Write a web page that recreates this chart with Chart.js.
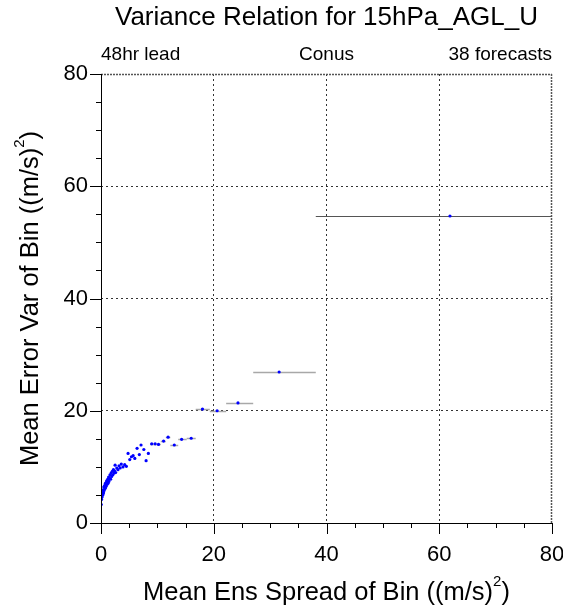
<!DOCTYPE html>
<html>
<head>
<meta charset="utf-8">
<script src="https://cdn.jsdelivr.net/npm/chart.js@4.4.1/dist/chart.umd.min.js"></script>
<style>
  html, body { margin: 0; padding: 0; background: #fff; }
</style>
</head>
<body>
<canvas id="varianceChart" width="563" height="609"></canvas>
<script>
// small bins near the origin (error bars too short to see)
const clusterSpread = [0.05, 0.1, 0.15, 0.2, 0.25, 0.3, 0.35, 0.4, 0.45, 0.5, 0.55, 0.6, 0.7, 0.75, 0.8, 0.9, 0.95, 1.0, 1.1, 1.2,
  1.25, 1.35, 1.4, 1.5, 1.6, 1.7, 1.8, 1.9, 2.0, 2.1, 2.2, 2.35, 2.4, 2.5, 2.6, 2.8, 3.0, 3.2, 3.4, 3.6,
  3.9, 4.2, 4.5, 4.8, 5.1, 5.4, 5.7, 6.0, 6.4, 6.8, 7.1, 7.6, 8.0, 8.4];
const clusterErrVar = [3.3, 4.2, 4.6, 5.3, 4.9, 5.8, 5.1, 5.9, 5.4, 6.4, 5.8, 6.6, 6.1, 7.0, 6.3, 7.2, 6.6, 7.5, 6.9, 7.8,
  7.1, 8.2, 7.4, 8.0, 8.6, 7.8, 8.9, 8.3, 9.2, 8.6, 9.5, 8.9, 9.3, 10.3, 9.0, 9.8, 9.5, 10.2, 9.8, 10.5,
  10.0, 10.4, 10.1, 12.4, 11.3, 11.8, 12.0, 11.5, 13.3, 12.2, 13.9, 13.1, 11.1, 12.4];

// wider bins with visible spread ranges
const binSpread = [9.0, 9.6, 10.2, 11.1, 11.9, 13.0, 14.3, 16.0, 18.0, 20.6, 24.3, 31.6, 61.9];
const binErrVar = [14.1, 14.1, 14.0, 14.6, 15.3, 13.9, 14.9, 15.1, 20.3, 20.0, 21.4, 26.9, 54.7];
const binLo = [8.7, 9.3, 9.9, 10.6, 11.5, 12.3, 13.7, 15.2, 16.8, 19.3, 22.2, 27.0, 38.1];
const binHi = [9.3, 9.9, 10.6, 11.5, 12.3, 13.7, 15.2, 16.8, 19.3, 22.2, 27.0, 38.1, 90];

const axisTicks = [0, 20, 40, 60, 80];

const fontName = '"Liberation Sans", Arial, Helvetica, sans-serif';

function toPoints(xs, ys) {
  return xs.map((x, i) => ({ x: x, y: ys[i] }));
}

function textWithSup(ctx, pre, sup, post, size) {
  // draws centred at (0,0)
  ctx.font = size + 'px ' + fontName;
  const w1 = ctx.measureText(pre).width;
  const w3 = ctx.measureText(post).width;
  ctx.font = Math.round(size * 0.6) + 'px ' + fontName;
  const w2 = ctx.measureText(sup).width;
  let x = -(w1 + w2 + w3) / 2;
  ctx.textAlign = 'left';
  ctx.textBaseline = 'middle';
  ctx.font = size + 'px ' + fontName;
  ctx.fillText(pre, x, 0);
  x += w1;
  ctx.font = Math.round(size * 0.6) + 'px ' + fontName;
  ctx.fillText(sup, x, -size * 0.42);
  x += w2;
  ctx.font = size + 'px ' + fontName;
  ctx.fillText(post, x, 0);
}

const decor = {
  id: 'decor',
  beforeDatasetsDraw(chart) {
    const ctx = chart.ctx;
    const xs = chart.scales.x, ys = chart.scales.y;
    const a = chart.chartArea;
    ctx.save();
    ctx.beginPath();
    ctx.rect(a.left, a.top, a.right - a.left, a.bottom - a.top);
    ctx.clip();
    // spread range of each bin
    binLo.forEach((lo, i) => {
      const y = Math.round(ys.getPixelForValue(binErrVar[i])) + 0.5;
      ctx.strokeStyle = i === binLo.length - 1 ? '#555' : '#a8a8a8';
      ctx.lineWidth = i === binLo.length - 1 ? 1 : 1.5;
      ctx.beginPath();
      ctx.moveTo(xs.getPixelForValue(lo), y);
      ctx.lineTo(xs.getPixelForValue(binHi[i]), y);
      ctx.stroke();
    });
    ctx.restore();
  },
  afterDraw(chart) {
    const ctx = chart.ctx;
    const xs = chart.scales.x, ys = chart.scales.y;
    const a = chart.chartArea;
    ctx.save();
    // top and right frame
    ctx.strokeStyle = '#555';
    ctx.lineWidth = 1.5;
    ctx.setLineDash([2, 1]);
    ctx.beginPath();
    ctx.moveTo(a.left, a.top + 0.5);
    ctx.lineTo(a.right, a.top + 0.5);
    ctx.moveTo(a.right - 0.5, a.top);
    ctx.lineTo(a.right - 0.5, a.bottom);
    ctx.stroke();
    ctx.setLineDash([]);
    // left and bottom axes
    ctx.strokeStyle = '#000';
    ctx.lineWidth = 1;
    ctx.beginPath();
    ctx.moveTo(a.left + 0.5, a.top);
    ctx.lineTo(a.left + 0.5, a.bottom + 1);
    ctx.moveTo(a.left, a.bottom + 0.5);
    ctx.lineTo(a.right, a.bottom + 0.5);
    for (let v = 0; v <= 80; v += 5) {
      const len = axisTicks.includes(v) ? 11 : 5;
      const py = Math.round(ys.getPixelForValue(v)) + 0.5;
      ctx.moveTo(a.left - len, py);
      ctx.lineTo(a.left + 0.5, py);
      const px = Math.round(xs.getPixelForValue(v)) + 0.5;
      ctx.moveTo(px, a.bottom);
      ctx.lineTo(px, a.bottom + len);
    }
    ctx.stroke();

    // titles
    ctx.fillStyle = '#000';
    const cx = (a.left + a.right) / 2;
    ctx.font = '26px ' + fontName;
    ctx.textAlign = 'center';
    ctx.textBaseline = 'middle';
    ctx.fillText('Variance Relation for 15hPa_AGL_U', cx, 18);
    ctx.font = '19px ' + fontName;
    ctx.textAlign = 'left';
    ctx.fillText('48hr lead', a.left, 55);
    ctx.textAlign = 'center';
    ctx.fillText('Conus', cx, 55);
    ctx.textAlign = 'right';
    ctx.fillText('38 forecasts', a.right, 55);

    ctx.save();
    ctx.translate(cx, 593);
    textWithSup(ctx, 'Mean Ens Spread of Bin ((m/s)', '2', ')', 25.5);
    ctx.restore();

    ctx.save();
    ctx.translate(31, (a.top + a.bottom) / 2);
    ctx.rotate(-Math.PI / 2);
    textWithSup(ctx, 'Mean Error Var of Bin ((m/s)', '2', ')', 25.5);
    ctx.restore();

    ctx.restore();
  }
};

const ctx = document.getElementById('varianceChart').getContext('2d');
const varianceChart = new Chart(ctx, {
  type: 'scatter',
  data: {
    datasets: [
      {
        label: 'small bins',
        data: toPoints(clusterSpread, clusterErrVar),
        backgroundColor: '#0000ff',
        borderWidth: 0,
        pointRadius: 1.6
      },
      {
        label: 'wide bins',
        data: toPoints(binSpread, binErrVar),
        backgroundColor: '#0000ff',
        borderWidth: 0,
        pointRadius: 1.6
      }
    ]
  },
  options: {
    responsive: false,
    animation: false,
    devicePixelRatio: 1,
    layout: { padding: { top: 74, right: 11, left: 0, bottom: 0 } },
    plugins: {
      legend: { display: false },
      tooltip: { enabled: false }
    },
    scales: {
      x: {
        type: 'linear',
        min: 0,
        max: 80,
        afterFit: function(scale) {
          scale.height = 86;
          scale.paddingLeft = 0;
          scale.paddingRight = 0;
        },
        ticks: {
          stepSize: 5,
          autoSkip: false,
          maxRotation: 0,
          padding: 19,
          color: '#000',
          font: { family: fontName, size: 22 },
          callback: function(value) { return axisTicks.includes(value) ? value : ''; }
        },
        grid: {
          drawTicks: false,
          color: function(c) {
            const v = c.tick && c.tick.value;
            return (v === 20 || v === 40 || v === 60) ? '#333' : 'rgba(0,0,0,0)';
          }
        },
        border: { display: false, dash: [2, 3] }
      },
      y: {
        type: 'linear',
        min: 0,
        max: 80,
        afterFit: function(scale) {
          scale.width = 101;
          scale.paddingTop = 0;
          scale.paddingBottom = 0;
        },
        ticks: {
          stepSize: 5,
          autoSkip: false,
          padding: 13,
          color: '#000',
          font: { family: fontName, size: 22 },
          callback: function(value) { return axisTicks.includes(value) ? value : ''; }
        },
        grid: {
          drawTicks: false,
          color: function(c) {
            const v = c.tick && c.tick.value;
            return (v === 20 || v === 40 || v === 60) ? '#333' : 'rgba(0,0,0,0)';
          }
        },
        border: { display: false, dash: [2, 3] }
      }
    }
  },
  plugins: [decor]
});
</script>
</body>
</html>
